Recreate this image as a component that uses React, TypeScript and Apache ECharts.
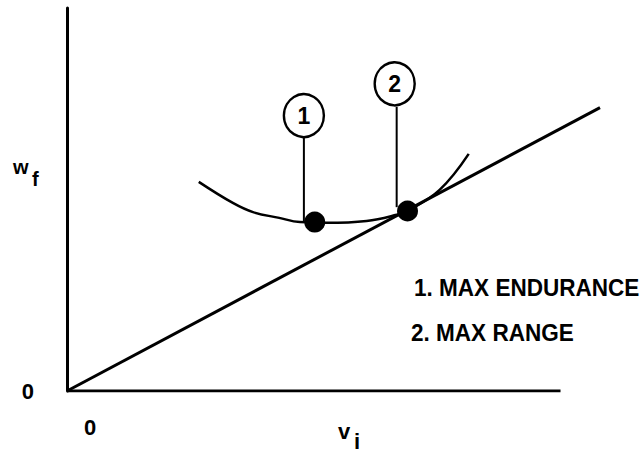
import React, { useEffect, useRef } from "react";
import * as echarts from "echarts";

// Axis tick labels (only the origin is labelled)
const xTickLabels: string[] = ["0"];
const yTickLabels: string[] = ["0"];

// Extent of the drawn horizontal axis (data units)
const xAxisEnd = 100;
// Plot extent on the x axis (the diagonal runs past the axis end)
const xPlotMax = 108;

// Straight line through the origin
const lineX = [0, 108];
const lineY = [0, 74];

// Fuel-weight curve
const curveX = [26.7, 33.6, 37.7, 43.0, 47.2, 52.6, 60.7, 66.8, 69.0, 75.5, 81.4];
const curveY = [54.6, 49.1, 46.7, 45.2, 44.1, 43.9, 44.4, 46.0, 47.0, 52.5, 61.9];

// Optimum points
const optimumNames = ["1", "2"];
const optimumX = [50.2, 69.0];
const optimumY = [44.1, 47.0];

// Leader lines and numbered badges
const leaderX = [48.0, 66.8];
const leaderTopY = [66.1, 74.2];
const leaderBottomY = [44.1, 48.0];
const badgeX = [48.0, 66.4];
const badgeY = [71.9, 80.2];

// Legend text and axis titles
const legendLines = ["1. MAX ENDURANCE", "2. MAX RANGE"];
const yTitle = ["w", "f"];
const xTitle = ["v", "i"];

const FONT = "'Liberation Sans', Arial, sans-serif";

export default function App() {
  const ref = useRef<HTMLDivElement>(null);

  useEffect(() => {
    if (!ref.current) return;
    const chart = echarts.init(ref.current, undefined, { renderer: "svg" });

    const leaderSeries = leaderX.map((x, i) => ({
      type: "line",
      data: [
        [x, leaderTopY[i]],
        [x, leaderBottomY[i]],
      ],
      showSymbol: false,
      lineStyle: { color: "#000", width: 2 },
      z: 3,
      silent: true,
    }));

    chart.setOption({
      animation: false,
      backgroundColor: "#fff",
      grid: { left: 67, top: 8, width: 533, height: 383, containLabel: false },
      xAxis: {
        type: "value",
        min: 0,
        max: xPlotMax,
        interval: xPlotMax,
        axisLine: { show: false },
        axisTick: { show: false },
        splitLine: { show: false },
        axisLabel: {
          show: true,
          formatter: (v: number) => (v === 0 ? xTickLabels[0] : ""),
          color: "#000",
          fontFamily: FONT,
          fontSize: 22,
          fontWeight: "bold",
          align: "left",
          padding: [0, 0, 0, 17],
          margin: 25,
        },
      },
      yAxis: {
        type: "value",
        min: 0,
        max: 100,
        interval: 100,
        axisLine: { show: true, onZero: false, lineStyle: { color: "#000", width: 3 } },
        axisTick: { show: false },
        splitLine: { show: false },
        axisLabel: {
          show: true,
          formatter: (v: number) => (v === 0 ? yTickLabels[0] : ""),
          color: "#000",
          fontFamily: FONT,
          fontSize: 22,
          fontWeight: "bold",
          margin: 33,
        },
      },
      series: [
        {
          // horizontal axis line (stops short of the plot's right edge)
          type: "line",
          data: [
            [0, 0],
            [xAxisEnd, 0],
          ],
          showSymbol: false,
          lineStyle: { color: "#000", width: 3 },
          z: 2,
          silent: true,
        },
        {
          type: "line",
          data: lineX.map((x, i) => [x, lineY[i]]),
          showSymbol: false,
          lineStyle: { color: "#000", width: 3 },
          z: 2,
          silent: true,
        },
        {
          type: "line",
          data: curveX.map((x, i) => [x, curveY[i]]),
          showSymbol: false,
          smooth: 0.4,
          lineStyle: { color: "#000", width: 2.5 },
          z: 2,
          silent: true,
        },
        ...leaderSeries,
        {
          type: "scatter",
          data: optimumX.map((x, i) => ({ name: optimumNames[i], value: [x, optimumY[i]] })),
          symbol: "circle",
          symbolSize: 21,
          itemStyle: { color: "#000", opacity: 1 },
          z: 4,
          silent: true,
        },
        {
          type: "scatter",
          data: badgeX.map((x, i) => ({ name: optimumNames[i], value: [x, badgeY[i]] })),
          symbol: "circle",
          symbolSize: [40, 43],
          itemStyle: { color: "#fff", borderColor: "#000", borderWidth: 2.5, opacity: 1 },
          label: {
            show: true,
            position: "inside",
            formatter: "{b}",
            color: "#000",
            fontFamily: FONT,
            fontSize: 23,
            fontWeight: "bold",
          },
          z: 5,
          silent: true,
        },
      ],
      graphic: [
        {
          type: "text",
          left: 13,
          top: 157,
          style: { text: yTitle[0], fill: "#000", font: `bold 20px ${FONT}` },
        },
        {
          type: "text",
          left: 32,
          top: 169,
          style: { text: yTitle[1], fill: "#000", font: `bold 20px ${FONT}` },
        },
        {
          type: "text",
          left: 338,
          top: 420,
          style: { text: xTitle[0], fill: "#000", font: `bold 22px ${FONT}` },
        },
        {
          type: "text",
          left: 354,
          top: 430,
          style: { text: xTitle[1], fill: "#000", font: `bold 22px ${FONT}` },
        },
        {
          type: "text",
          x: 414,
          y: 276,
          scaleX: 0.98,
          style: { text: legendLines[0], fill: "#000", font: `bold 23px ${FONT}` },
        },
        {
          type: "text",
          x: 411,
          y: 321,
          scaleX: 0.98,
          style: { text: legendLines[1], fill: "#000", font: `bold 23px ${FONT}` },
        },
      ],
    });

    return () => chart.dispose();
  }, []);

  return (
    <div
      ref={ref}
      style={{ position: "absolute", left: 0, top: 0, width: 642, height: 453 }}
    />
  );
}
